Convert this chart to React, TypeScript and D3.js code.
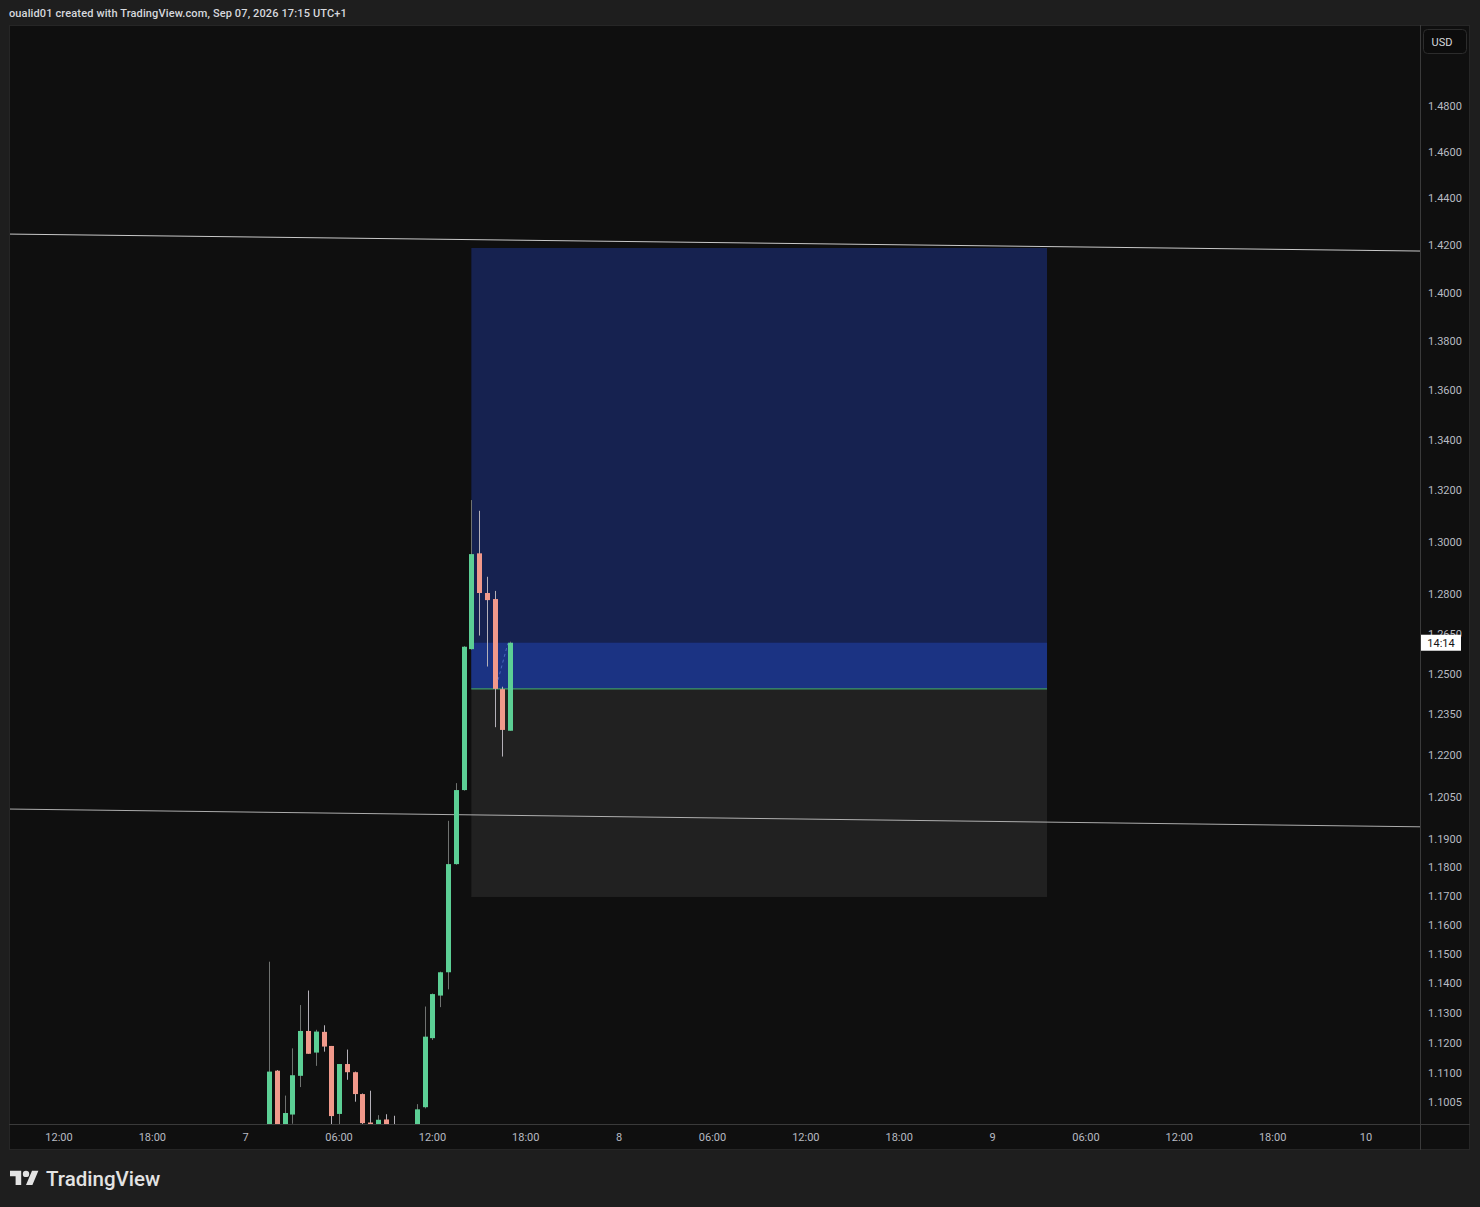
import React from "react";
import * as d3 from "d3";

// ---------- data ----------
const headerText = "oualid01 created with TradingView.com, Sep 07, 2026 17:15 UTC+1";

const candleTimes = [
  "2026-09-07T01:30", "2026-09-07T02:00", "2026-09-07T02:30", "2026-09-07T03:00",
  "2026-09-07T03:30", "2026-09-07T04:00", "2026-09-07T04:30", "2026-09-07T05:00",
  "2026-09-07T05:30", "2026-09-07T06:00", "2026-09-07T06:30", "2026-09-07T07:00",
  "2026-09-07T07:30", "2026-09-07T08:00", "2026-09-07T08:30", "2026-09-07T09:00",
  "2026-09-07T09:30", "2026-09-07T10:00", "2026-09-07T10:30", "2026-09-07T11:00",
  "2026-09-07T11:30", "2026-09-07T12:00", "2026-09-07T12:30", "2026-09-07T13:00",
  "2026-09-07T13:30", "2026-09-07T14:00", "2026-09-07T14:30", "2026-09-07T15:00",
  "2026-09-07T15:30", "2026-09-07T16:00", "2026-09-07T16:30", "2026-09-07T17:00",
];
const opens = [
  1.0900, 1.1108, 1.0910, 1.0964, 1.1091, 1.1240, 1.1168, 1.1237,
  1.1190, 1.0966, 1.1130, 1.1103, 1.1031, 1.0938, 1.0926, 1.0948,
  1.0926, 1.0910, 1.0900, 1.0915, 1.0988, 1.1216, 1.1359, 1.1438,
  1.1812, 1.2075, 1.2592, 1.2956, 1.2804, 1.2781, 1.2443, 1.2290,
];
const highs = [
  1.1474, 1.1110, 1.1026, 1.1182, 1.1327, 1.1376, 1.1244, 1.1259,
  1.1190, 1.1130, 1.1178, 1.1105, 1.1033, 1.1042, 1.0962, 1.0965,
  1.0960, 1.0925, 1.0928, 1.0998, 1.1322, 1.1366, 1.1440, 1.1965,
  1.2100, 1.2603, 1.3163, 1.3121, 1.2866, 1.2812, 1.2452, 1.2620,
];
const lows = [
  1.0880, 1.0880, 1.0890, 1.0934, 1.1054, 1.1164, 1.1124, 1.1171,
  1.0925, 1.0925, 1.1078, 1.1006, 1.0928, 1.0920, 1.0915, 1.0915,
  1.0905, 1.0885, 1.0890, 1.0910, 1.0984, 1.1210, 1.1320, 1.1380,
  1.1810, 1.2073, 1.2590, 1.2643, 1.2527, 1.2303, 1.2196, 1.2290,
];
const closes = [
  1.1105, 1.0900, 1.0969, 1.1093, 1.1240, 1.1164, 1.1238, 1.1188,
  1.0959, 1.1130, 1.1103, 1.1031, 1.0936, 1.0926, 1.0947, 1.0926,
  1.0910, 1.0900, 1.0915, 1.0981, 1.1221, 1.1364, 1.1438, 1.1812,
  1.2075, 1.2601, 1.2953, 1.2804, 1.2777, 1.2444, 1.2293, 1.2616,
];

const priceTicks = [
  1.48, 1.46, 1.44, 1.42, 1.40, 1.38, 1.36, 1.34, 1.32, 1.30, 1.28, 1.265,
  1.25, 1.235, 1.22, 1.205, 1.19, 1.18, 1.17, 1.16, 1.15, 1.14, 1.13, 1.12, 1.11, 1.1005,
];
const timeTicks = [
  "2026-09-06T12:00", "2026-09-06T18:00", "2026-09-07T00:00", "2026-09-07T06:00",
  "2026-09-07T12:00", "2026-09-07T18:00", "2026-09-08T00:00", "2026-09-08T06:00",
  "2026-09-08T12:00", "2026-09-08T18:00", "2026-09-09T00:00", "2026-09-09T06:00",
  "2026-09-09T12:00", "2026-09-09T18:00", "2026-09-10T00:00",
];

// long position tool
const positionStart = "2026-09-07T14:30";
const positionEnd = "2026-09-09T03:30";
const entryPrice = 1.2444;
const targetPrice = 1.4188;
const stopPrice = 1.1697;
const currentPrice = 1.2616;
const countdownLabel = "14:14";

// trend lines [time, price] pairs
const upperLineTimes = ["2026-09-06T06:00", "2026-09-10T06:00"];
const upperLinePrices = [1.4249, 1.4173];
const lowerLineTimes = ["2026-09-06T06:00", "2026-09-10T06:00"];
const lowerLinePrices = [1.2009, 1.1942];

// dashed trail of position tool
const trailTimes = ["2026-09-07T16:13", "2026-09-07T16:51"];
const trailPrices = [1.2477, 1.2614];

// ---------- helpers ----------
const parseT = (s: string) => {
  const [d, t] = s.split("T");
  const [Y, M, D] = d.split("-").map(Number);
  const [h, m] = t.split(":").map(Number);
  return new Date(Date.UTC(Y, M - 1, D, h, m));
};

const W = 1480;
const H = 1207;
const plot = { left: 10, top: 26, right: 1420, bottom: 1124 };
const axisRight = 1470;
const axisBottom = 1150;

const COLORS = {
  page: "#1e1e1e",
  chart: "#0f0f0f",
  text: "#b8bbc2",
  up: "#5ccf95",
  down: "#f1998b",
  upWick: "#6f7270",
  downWick: "#b4b0b8",
  target: "#162250",
  targetLive: "#1b3383",
  stop: "#212121",
  entry: "#3f9a68",
  trend: "#c9c9c9",
};

const FONT = "Roboto, 'Liberation Sans', 'DejaVu Sans', sans-serif";

export default function App() {
  const x = d3
    .scaleUtc()
    .domain([parseT("2026-09-06T12:00"), parseT("2026-09-10T00:00")])
    .range([59, 1366]);
  const y = d3.scaleLog().domain([1.48, 1.1005]).range([106, 1102]);

  const fmtHour = d3.utcFormat("%H:%M");
  const tickLabel = (d: Date) => (d.getUTCHours() === 0 && d.getUTCMinutes() === 0 ? String(d.getUTCDate()) : fmtHour(d));
  const fmtPrice = (v: number) => v.toFixed(4);

  const bodyW = 5;
  const candles = candleTimes.map((t, i) => ({
    t: parseT(t),
    o: opens[i],
    h: highs[i],
    l: lows[i],
    c: closes[i],
  }));

  const px0 = x(parseT(positionStart));
  const px1 = x(parseT(positionEnd));
  const yEntry = y(entryPrice);
  const yTarget = y(targetPrice);
  const yStop = y(stopPrice);
  const yCur = y(currentPrice);

  const line = d3
    .line<[Date, number]>()
    .x((d) => x(d[0]))
    .y((d) => y(d[1]));

  const upper: [Date, number][] = upperLineTimes.map((t, i) => [parseT(t), upperLinePrices[i]]);
  const lower: [Date, number][] = lowerLineTimes.map((t, i) => [parseT(t), lowerLinePrices[i]]);
  const trail: [Date, number][] = trailTimes.map((t, i) => [parseT(t), trailPrices[i]]);

  return (
    <svg
      width={W}
      height={H}
      style={{ position: "absolute", left: 0, top: 0, display: "block" }}
      fontFamily={FONT}
    >
      <defs>
        <clipPath id="plotClip">
          <rect x={plot.left} y={plot.top} width={plot.right - plot.left} height={plot.bottom - plot.top} />
        </clipPath>
      </defs>
      <rect x={0} y={0} width={W} height={H} fill={COLORS.page} />
      <text x={9} y={17} fill="#d6d8dd" fontSize={11} fontWeight={500} letterSpacing={0.13}>
        {headerText}
      </text>

      {/* chart frame */}
      <rect x={9} y={25} width={axisRight - 9} height={axisBottom - 25} fill={COLORS.chart} />
      <rect x={9.5} y={25.5} width={axisRight - 10} height={axisBottom - 26} fill="none" stroke="#262626" />

      <g clipPath="url(#plotClip)">
        {/* position tool */}
        <rect x={px0} y={yTarget} width={px1 - px0} height={yEntry - yTarget} fill={COLORS.target} />
        <rect x={px0} y={yCur} width={px1 - px0} height={yEntry - yCur} fill={COLORS.targetLive} />
        <rect x={px0} y={yEntry} width={px1 - px0} height={yStop - yEntry} fill={COLORS.stop} />
        <line x1={px0} x2={px1} y1={yEntry} y2={yEntry} stroke={COLORS.entry} strokeWidth={1.2} />

        {/* trend lines */}
        <path d={line(upper) || ""} stroke={COLORS.trend} strokeWidth={1} fill="none" />
        <path d={line(lower) || ""} stroke={COLORS.trend} strokeWidth={1} fill="none" opacity={0.85} />

        {/* candles */}
        {candles.map((d, i) => {
          const cx = Math.round(x(d.t));
          const up = d.c >= d.o;
          const top = y(Math.max(d.o, d.c));
          const bot = y(Math.min(d.o, d.c));
          return (
            <g key={i}>
              <line
                x1={cx + 0.5}
                x2={cx + 0.5}
                y1={y(d.h)}
                y2={y(d.l)}
                stroke={up ? COLORS.upWick : COLORS.downWick}
                strokeWidth={1}
              />
              <rect
                x={cx - 2}
                y={top}
                width={bodyW}
                height={Math.max(1, bot - top)}
                fill={up ? COLORS.up : COLORS.down}
              />
            </g>
          );
        })}

        <path d={line(trail) || ""} stroke="#5a7fd6" strokeWidth={1} strokeDasharray="3,3" fill="none" opacity={0.7} />
      </g>

      {/* axes separators */}
      <line x1={plot.right + 0.5} x2={plot.right + 0.5} y1={25} y2={axisBottom} stroke="#3a3a3a" />
      <line x1={9} x2={axisRight} y1={plot.bottom + 0.5} y2={plot.bottom + 0.5} stroke="#3a3a3a" />

      {/* price axis */}
      {priceTicks.map((v) => (
        <text key={v} x={1445} y={y(v)} dy="0.35em" textAnchor="middle" fill={COLORS.text} fontSize={11}>
          {fmtPrice(v)}
        </text>
      ))}

      {/* countdown label (covers the 1.2650 tick, as in the original) */}
      <rect x={1421} y={yCur - 8} width={40} height={16} fill="#ffffff" />
      <text x={1441} y={yCur} dy="0.35em" textAnchor="middle" fill="#131313" fontSize={11}>
        {countdownLabel}
      </text>

      {/* USD button */}
      <rect x={1423.5} y={29.5} width={43} height={24} rx={4} fill="#0c0c0c" stroke="#2c2c2c" />
      <text x={1442} y={42} dy="0.35em" textAnchor="middle" fill="#d6d8dd" fontSize={11}>
        USD
      </text>

      {/* time axis */}
      {timeTicks.map((t) => {
        const d = parseT(t);
        return (
          <text key={t} x={x(d)} y={1137} dy="0.35em" textAnchor="middle" fill={COLORS.text} fontSize={11}>
            {tickLabel(d)}
          </text>
        );
      })}

      {/* TradingView logo */}
      <g transform="translate(10,1167.5) scale(0.8)" fill="#e3e3e3">
        <path d="M14 22H7V11H0V4h14v18zM28 22h-8l7.5-18h8L28 22z" />
        <circle cx={20} cy={8} r={4} />
      </g>
      <text x={46} y={1179} dy="0.35em" fill="#e3e3e3" fontSize={20.5} fontWeight={500}>
        TradingView
      </text>
    </svg>
  );
}
